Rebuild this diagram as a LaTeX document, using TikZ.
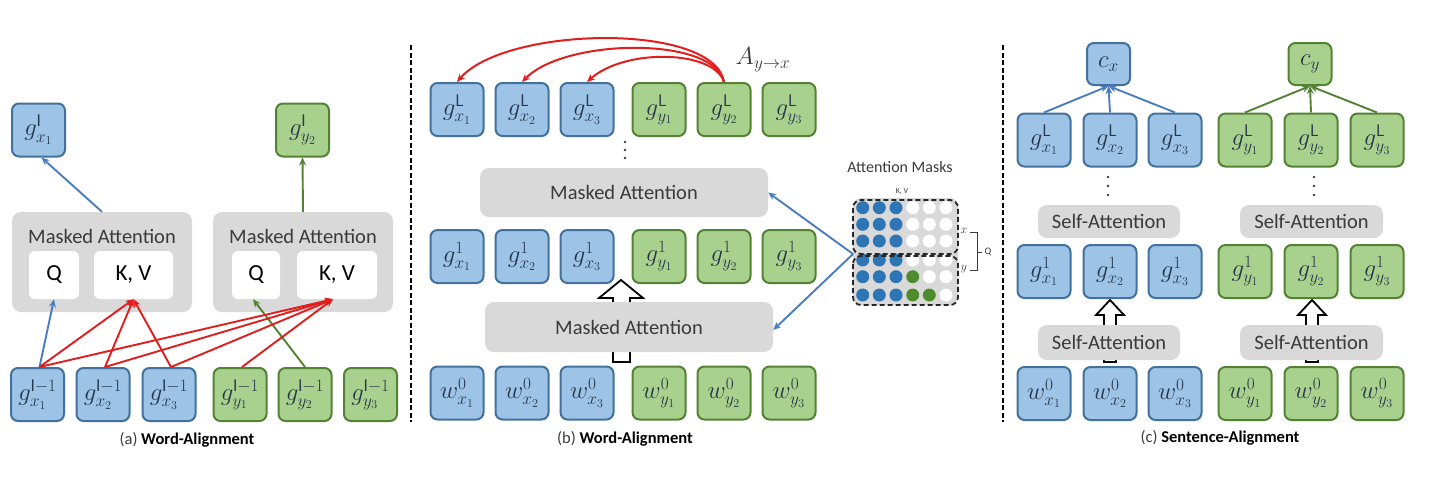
\documentclass[tikz,border=0pt]{standalone}
\usepackage{fontspec}
\setmainfont{Carlito}
\usetikzlibrary{arrows.meta}
\definecolor{bfill}{HTML}{9DC3E6}
\definecolor{bdraw}{HTML}{41719C}
\definecolor{gfill}{HTML}{A9D18E}
\definecolor{gdraw}{HTML}{548235}
\definecolor{grayb}{HTML}{D9D9D9}
\definecolor{txt}{HTML}{26364A}
\definecolor{txtgray}{HTML}{3A3A3A}
\definecolor{redarr}{HTML}{E01E1E}
\definecolor{bluearr}{HTML}{4A7CC0}
\definecolor{greenarr}{HTML}{548235}
\definecolor{dotblue}{HTML}{2E75B6}
\definecolor{dotgreen}{HTML}{4E8A2E}
\begin{document}
\begin{tikzpicture}[x=1pt,y=-1pt,
  bx/.style={draw=bdraw, fill=bfill, line width=2pt, rounded corners=7pt, minimum width=53pt, minimum height=53pt, inner sep=0pt, font=\fontsize{24}{26}\selectfont, text=txt},
  gx/.style={bx, draw=gdraw, fill=gfill},
  sbx/.style={bx, minimum width=43pt, minimum height=42pt},
  sgx/.style={gx, minimum width=43pt, minimum height=42pt},
  graybox/.style={fill=grayb, rounded corners=9pt, inner sep=0pt},
  whitebox/.style={fill=white, rounded corners=6pt, inner sep=0pt, font=\fontsize{23}{25}\selectfont, text=black},
  lbl/.style={font=\fontsize{20.5}{22}\selectfont, text=txtgray},
  captxt/.style={font=\fontsize{16.5}{18}\selectfont, text=black},
  arr/.style={-{Stealth[length=8pt,width=7pt]}, line width=1.9pt},
  sep/.style={line width=2.6pt, dash pattern=on 5pt off 2.5pt},
  hollow/.style={line width=1.8pt, fill=white, draw=black},
  mdash/.style={draw=black!85, line width=1.8pt, dash pattern=on 5pt off 3pt, rounded corners=8pt}
]
\useasboundingbox (0,0) rectangle (1443,477);

% separators
\coordinate (s1t) at (411,45); \coordinate (s1b) at (411,422);
\coordinate (s2t) at (1003,45); \coordinate (s2b) at (1003,422);
\draw[sep] (s1t) -- (s1b);
\draw[sep] (s2t) -- (s2b);

% ---------------- panel (a)
\node[graybox, minimum width=180pt, minimum height=100pt] (amL) at (102,262) {};
\node[graybox, minimum width=180pt, minimum height=100pt] (amR) at (303,262) {};
\node[lbl] at (102,236) {Masked Attention};
\node[lbl] at (303,236) {Masked Attention};
\node[whitebox, minimum width=50pt, minimum height=48pt] (aqL) at (54,275) {Q};
\node[whitebox, minimum width=79pt, minimum height=48pt] (akvL) at (133.5,275) {K, V};
\node[whitebox, minimum width=48pt, minimum height=48pt] (aqR) at (256,275) {Q};
\node[whitebox, minimum width=80pt, minimum height=48pt] (akvR) at (337,275) {K, V};

\node[bx] (atx) at (38.5,130) {$g^{\mathrm{l}}_{x_1}$};
\node[gx] (aty) at (302.5,130) {$g^{\mathrm{l}}_{y_2}$};

\node[bx] (a1) at (37.5,394.5) {$g^{\mathrm{l}-1}_{x_1}$};
\node[bx] (a2) at (103,394.5) {$g^{\mathrm{l}-1}_{x_2}$};
\node[bx] (a3) at (169,394.5) {$g^{\mathrm{l}-1}_{x_3}$};
\node[gx] (a4) at (240,394.5) {$g^{\mathrm{l}-1}_{y_1}$};
\node[gx] (a5) at (305,394.5) {$g^{\mathrm{l}-1}_{y_2}$};
\node[gx] (a6) at (370.5,394.5) {$g^{\mathrm{l}-1}_{y_3}$};

\draw[arr, bluearr] ([xshift=2pt]a1.north) -- (aqL.south);
\draw[arr, bluearr] (amL.north) -- ([xshift=3pt]atx.south);
\draw[arr, greenarr] (amR.north) -- (aty.south);
\draw[arr, greenarr] (a5.north) -- ([xshift=-3pt]aqR.south);
\foreach \n in {a1,a2,a3}
  \draw[arr, redarr] ([xshift=2pt]\n.north) -- (akvL.south);
\foreach \n in {a1,a2,a3,a4}
  \draw[arr, redarr] ([xshift=2pt]\n.north) -- ([xshift=-4pt]akvR.south);

\node[captxt] (capa) at (187,440) {\color{txtgray}(a) \textbf{\color{black}Word-Alignment}};

% ---------------- panel (b)
\draw[hollow] (613,362) -- (613,298) -- (599,298) -- (621,280) -- (643,298) -- (630,298) -- (630,362) -- cycle;
\node[graybox, minimum width=288pt, minimum height=49pt] (bmU) at (624,192.5) {};
\node[lbl] at (bmU) {Masked Attention};
\node[graybox, minimum width=288pt, minimum height=50pt] (bmD) at (629,327) {};
\node[lbl] at (bmD) {Masked Attention};

\foreach \i/\x in {1/457,2/522,3/587}{
  \node[bx] (bt\i) at (\x,109.5) {$g^{\mathsf{L}}_{x_\i}$};
  \node[bx] (bm\i) at (\x,256.5) {$g^{1}_{x_\i}$};
  \node[bx] (bb\i) at (\x,393) {$w^{0}_{x_\i}$};
}
\foreach \i/\j/\x in {1/4/659,2/5/724,3/6/789}{
  \node[gx] (bt\j) at (\x,109.5) {$g^{\mathsf{L}}_{y_\i}$};
  \node[gx] (bm\j) at (\x,256.5) {$g^{1}_{y_\i}$};
  \node[gx] (bb\j) at (\x,393) {$w^{0}_{y_\i}$};
}
\foreach \yy in {142,150,158} \fill[txtgray] (625,\yy) circle (1.3pt);

\draw[arr, redarr, line width=2pt] (bt5.north) .. controls (714,22) and (505,26) .. (bt1.north);
\draw[arr, redarr, line width=2pt] (bt5.north) .. controls (714,36) and (565,38) .. (bt2.north);
\draw[arr, redarr, line width=2pt] (bt5.north) .. controls (714,50) and (625,48) .. (bt3.north);
\node[font=\fontsize{27}{29}\selectfont, text=txtgray] (ayx) at (763,60) {$A_{y\rightarrow x}$};

% attention masks
\node[font=\fontsize{16}{18}\selectfont, text=txtgray] (amt) at (900,167) {Attention Masks};
\node[font=\fontsize{8}{9}\selectfont, text=txtgray] (kvt) at (902,191) {K, V};
\fill[grayb, rounded corners=8pt] (853,198) rectangle (958,305);
\foreach \yy in {207.7,224.3,241,260,276.7,295}{
  \foreach \xx in {862.7,879.3,896} \fill[dotblue] (\xx,\yy) circle (6.5pt);
  \foreach \xx in {912.7,929.3,946} \fill[white] (\xx,\yy) circle (6.5pt);
}
\fill[dotgreen] (912.7,276.7) circle (6.5pt);
\fill[dotgreen] (912.7,295) circle (6.5pt);
\fill[dotgreen] (929.3,295) circle (6.5pt);
\draw[mdash] (853,200) rectangle (958,254);
\draw[mdash] (853,256) rectangle (958,305);
\coordinate (mk) at (853,254);
\draw[arr, bluearr] (mk) -- (bmU.east);
\draw[arr, bluearr] (mk) -- ([yshift=-3pt]bmD.east);
% bracket
\node[font=\fontsize{12}{13}\selectfont, text=txtgray] (bx1) at (964,231) {$x$};
\node[font=\fontsize{12}{13}\selectfont, text=txtgray] (by1) at (964,269) {$y$};
\node[font=\fontsize{10}{12}\selectfont, text=txtgray] (bq1) at (988,252) {Q};
\draw[txtgray, line width=0.8pt] (970,232) -- (977,232) -- (977,270) -- (970,270);
\draw[txtgray, line width=0.8pt] (977,252) -- (982,252);

\node[captxt] (capb) at (625,439) {\color{txtgray}(b) \textbf{\color{black}Word-Alignment}};

% ---------------- panel (c)
\draw[hollow] (1104,362) -- (1104,315) -- (1096,315) -- (1110,300) -- (1124,315) -- (1116,315) -- (1116,362) -- cycle;
\draw[hollow] (1306,362) -- (1306,315) -- (1298,315) -- (1312,300) -- (1326,315) -- (1318,315) -- (1318,362) -- cycle;
\node[graybox, minimum width=142pt, minimum height=33pt] (cuL) at (1109,221.5) {};
\node[lbl] at (cuL) {Self-Attention};
\node[graybox, minimum width=143pt, minimum height=33pt] (cuR) at (1311.5,221.5) {};
\node[lbl] at (cuR) {Self-Attention};
\node[graybox, minimum width=142pt, minimum height=35pt] (cdL) at (1109,342.5) {};
\node[lbl] at (cdL) {Self-Attention};
\node[graybox, minimum width=143pt, minimum height=35pt] (cdR) at (1311.5,342.5) {};
\node[lbl] at (cdR) {Self-Attention};

\node[sbx] (cx) at (1108.5,64) {$c_x$};
\node[sgx] (cy) at (1310,64) {$c_y$};
\foreach \i/\x in {1/1044,2/1110,3/1175}{
  \node[bx] (ct\i) at (\x,140) {$g^{\mathsf{L}}_{x_\i}$};
  \node[bx] (cm\i) at (\x,271.5) {$g^{1}_{x_\i}$};
  \node[bx] (cb\i) at (\x,393.5) {$w^{0}_{x_\i}$};
}
\foreach \i/\j/\x in {1/4/1245,2/5/1311,3/6/1377}{
  \node[gx] (ct\j) at (\x,140) {$g^{\mathsf{L}}_{y_\i}$};
  \node[gx] (cm\j) at (\x,271.5) {$g^{1}_{y_\i}$};
  \node[gx] (cb\j) at (\x,393.5) {$w^{0}_{y_\i}$};
}
\foreach \n in {ct1,ct2,ct3} \draw[arr, bluearr] (\n.north) -- (cx.south);
\foreach \n in {ct4,ct5,ct6} \draw[arr, greenarr] (\n.north) -- (cy.south);
\foreach \yy in {177,186,195}{
  \fill[txtgray] (1108,\yy) circle (1.3pt);
  \fill[txtgray] (1314,\yy) circle (1.3pt);
}

\node[captxt] (capc) at (1220,438) {\color{txtgray}(c) \textbf{\color{black}Sentence-Alignment}};
\end{tikzpicture}
\end{document}
